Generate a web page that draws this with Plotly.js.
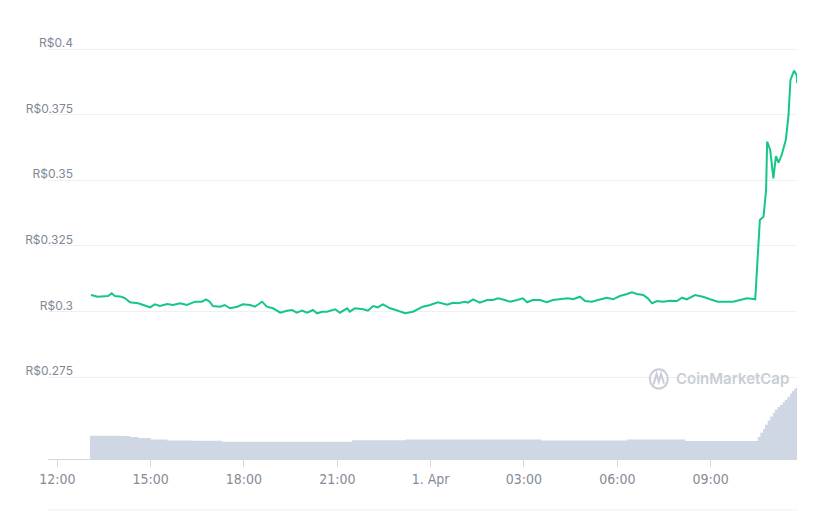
<!DOCTYPE html>
<html>
<head>
<meta charset="utf-8">
<script src="https://cdn.plot.ly/plotly-3.0.1.min.js"></script>
<style>
html,body{margin:0;padding:0;background:#fff;}
#chart{width:822px;height:511px;}
</style>
</head>
<body>
<div id="chart"></div>
<script>
// Price series (BRL) — 31 Mar to 1 Apr
const priceTimes = [
"2021-03-31 13:05","2021-03-31 13:18","2021-03-31 13:38","2021-03-31 13:45","2021-03-31 13:51","2021-03-31 14:04","2021-03-31 14:11","2021-03-31 14:20","2021-03-31 14:36","2021-03-31 14:45",
"2021-03-31 14:59","2021-03-31 15:08","2021-03-31 15:18","2021-03-31 15:32","2021-03-31 15:43","2021-03-31 15:57","2021-03-31 16:10","2021-03-31 16:26","2021-03-31 16:39","2021-03-31 16:47",
"2021-03-31 16:54","2021-03-31 17:00","2021-03-31 17:14","2021-03-31 17:23","2021-03-31 17:33","2021-03-31 17:47","2021-03-31 17:58","2021-03-31 18:12","2021-03-31 18:21","2021-03-31 18:35",
"2021-03-31 18:44","2021-03-31 18:56","2021-03-31 19:10","2021-03-31 19:23","2021-03-31 19:33","2021-03-31 19:42","2021-03-31 19:52","2021-03-31 20:02","2021-03-31 20:13","2021-03-31 20:21",
"2021-03-31 20:31","2021-03-31 20:40","2021-03-31 20:56","2021-03-31 21:05","2021-03-31 21:19","2021-03-31 21:24","2021-03-31 21:34","2021-03-31 21:50","2021-03-31 21:59","2021-03-31 22:09",
"2021-03-31 22:18","2021-03-31 22:28","2021-03-31 22:42","2021-03-31 22:57","2021-03-31 23:11","2021-03-31 23:26","2021-03-31 23:45","2021-03-31 23:59","2021-04-01 00:14","2021-04-01 00:32",
"2021-04-01 00:43","2021-04-01 00:53","2021-04-01 01:06","2021-04-01 01:12","2021-04-01 01:22","2021-04-01 01:35","2021-04-01 01:49","2021-04-01 02:00","2021-04-01 02:10","2021-04-01 02:23",
"2021-04-01 02:33","2021-04-01 02:47","2021-04-01 02:58","2021-04-01 03:06","2021-04-01 03:17","2021-04-01 03:31","2021-04-01 03:44","2021-04-01 03:56","2021-04-01 04:10","2021-04-01 04:25",
"2021-04-01 04:35","2021-04-01 04:48","2021-04-01 04:58","2021-04-01 05:11","2021-04-01 05:23","2021-04-01 05:40","2021-04-01 05:52","2021-04-01 06:05","2021-04-01 06:19","2021-04-01 06:28",
"2021-04-01 06:38","2021-04-01 06:50","2021-04-01 06:59","2021-04-01 07:07","2021-04-01 07:17","2021-04-01 07:28","2021-04-01 07:42","2021-04-01 07:55","2021-04-01 08:05","2021-04-01 08:14",
"2021-04-01 08:30","2021-04-01 08:45","2021-04-01 08:59","2021-04-01 09:14","2021-04-01 09:32","2021-04-01 09:43","2021-04-01 09:57","2021-04-01 10:10","2021-04-01 10:22","2021-04-01 10:26",
"2021-04-01 10:35","2021-04-01 10:42","2021-04-01 10:47","2021-04-01 10:49","2021-04-01 10:55","2021-04-01 11:01","2021-04-01 11:06","2021-04-01 11:11","2021-04-01 11:17","2021-04-01 11:25",
"2021-04-01 11:30","2021-04-01 11:34","2021-04-01 11:41","2021-04-01 11:46","2021-04-01 11:47"
];
const priceValues = [
0.30625,0.30560,0.30587,0.30690,0.30587,0.30560,0.30499,0.30347,0.30309,0.30244,
0.30156,0.30271,0.30206,0.30282,0.30244,0.30309,0.30244,0.30370,0.30370,0.30461,
0.30370,0.30206,0.30179,0.30244,0.30118,0.30179,0.30271,0.30244,0.30179,0.30370,
0.30179,0.30118,0.29950,0.30027,0.30053,0.29950,0.30027,0.29950,0.30053,0.29928,
0.29989,0.29989,0.30080,0.29950,0.30118,0.29989,0.30118,0.30080,0.30027,0.30206,
0.30156,0.30271,0.30118,0.30027,0.29928,0.29989,0.30179,0.30244,0.30347,0.30255,
0.30332,0.30309,0.30370,0.30332,0.30461,0.30332,0.30434,0.30434,0.30499,0.30434,
0.30370,0.30434,0.30499,0.30347,0.30434,0.30434,0.30347,0.30434,0.30461,0.30499,
0.30461,0.30560,0.30396,0.30370,0.30434,0.30522,0.30461,0.30587,0.30663,0.30728,
0.30663,0.30625,0.30499,0.30309,0.30396,0.30370,0.30408,0.30396,0.30522,0.30461,
0.30625,0.30560,0.30461,0.30370,0.30370,0.30370,0.30434,0.30499,0.30473,0.30461,
0.33483,0.33609,0.34627,0.36467,0.36151,0.35072,0.35922,0.35667,0.35960,0.36532,
0.37420,0.38819,0.39173,0.39009,0.38693
];

// Volume series (arbitrary units, relative)
const volumeTimes = [
"2021-03-31 13:03","2021-03-31 13:30","2021-03-31 14:01","2021-03-31 14:20","2021-03-31 14:36","2021-03-31 15:00","2021-03-31 15:32","2021-03-31 16:20",
"2021-03-31 17:18","2021-03-31 21:28","2021-03-31 23:12","2021-04-01 03:33","2021-04-01 06:19","2021-04-01 08:11","2021-04-01 10:31","2021-04-01 10:36",
"2021-04-01 10:41","2021-04-01 10:45","2021-04-01 10:50","2021-04-01 10:55","2021-04-01 11:00","2021-04-01 11:04","2021-04-01 11:09","2021-04-01 11:14",
"2021-04-01 11:19","2021-04-01 11:23","2021-04-01 11:28","2021-04-01 11:33","2021-04-01 11:37","2021-04-01 11:41","2021-04-01 11:44","2021-04-01 11:47"
];
const volumeValues = [
2.33,2.33,2.30,2.20,2.10,1.95,1.86,1.83,
1.73,1.88,1.95,1.86,1.95,1.80,2.20,2.63,
3.00,3.43,3.85,4.26,4.60,4.93,5.20,5.43,
5.70,5.93,6.20,6.53,6.80,7.00,7.13,7.13
];

// Axis ticks
const xTickVals = ["2021-03-31 12:00","2021-03-31 15:00","2021-03-31 18:00","2021-03-31 21:00","2021-04-01 00:00","2021-04-01 03:00","2021-04-01 06:00","2021-04-01 09:00"];
const xTickText = ["12:00","15:00","18:00","21:00","1. Apr","03:00","06:00","09:00"];
const yTickVals = [0.275,0.3,0.325,0.35,0.375,0.4];
const yTickText = ["R$0.275","R$0.3","R$0.325","R$0.35","R$0.375","R$0.4"];

const traces = [
  {
    x: volumeTimes, y: volumeValues, yaxis: 'y2', type: 'scatter', mode: 'lines',
    line: {width: 0, shape: 'hv', color: '#cfd6e4'},
    fill: 'tozeroy', fillcolor: '#cfd6e4', hoverinfo: 'skip'
  },
  {
    x: priceTimes, y: priceValues, type: 'scatter', mode: 'lines',
    line: {color: '#16c784', width: 2}, hoverinfo: 'skip'
  }
];

const layout = {
  width: 822, height: 511,
  margin: {l: 48, r: 25, t: 40, b: 52},
  paper_bgcolor: '#ffffff', plot_bgcolor: '#ffffff',
  showlegend: false,
  xaxis: {
    type: 'date',
    range: ["2021-03-31 11:42:06", "2021-04-01 11:46:36"],
    tickvals: xTickVals, ticktext: xTickText,
    ticks: 'outside', ticklen: 7, tickcolor: '#d3d7dd', tickwidth: 1,
    showgrid: false, zeroline: false,
    showline: true, linecolor: '#d3d7dd', linewidth: 1,
    tickfont: {family: 'Liberation Sans Narrow, DejaVu Sans Condensed, Roboto Condensed, Liberation Sans, sans-serif', size: 14, color: '#858c97'}
  },
  yaxis: {
    range: [0.24375, 0.40343],
    tickvals: yTickVals, ticktext: yTickText,
    ticks: '', showgrid: true, gridcolor: '#eef0f3', gridwidth: 1,
    zeroline: false, showline: false,
    ticklabelshift: -6, ticklabelstandoff: -26,
    tickfont: {family: 'Inter, Open Sans, sans-serif', size: 12, color: '#7f8897'}
  },
  yaxis2: {
    overlaying: 'y', range: [0, 41.9], visible: false, showgrid: false, zeroline: false
  },
  shapes: [
    {type: 'line', xref: 'paper', yref: 'paper', x0: 0, x1: 1, y0: -0.1217, y1: -0.1217,
     line: {color: '#eef0f3', width: 1}},
    {type: 'circle', xref: 'paper', yref: 'paper', x0: 0.8035, x1: 0.8275, y0: 0.168, y1: 0.214,
     line: {color: '#c9ced6', width: 2}},
    {type: 'path', xref: 'paper', yref: 'paper',
     path: 'M 0.8085 0.178 L 0.8125 0.203 L 0.8155 0.184 L 0.8185 0.203 L 0.8225 0.180',
     line: {color: '#c9ced6', width: 2}}
  ],
  annotations: [
    {xref: 'paper', yref: 'paper', x: 0.9135, y: 0.191, text: 'CoinMarketCap', showarrow: false,
     xanchor: 'center', yanchor: 'middle',
     font: {family: 'Inter, Open Sans, sans-serif', size: 15, color: '#c9ced6', weight: 600}}
  ]
};

Plotly.newPlot('chart', traces, layout, {staticPlot: true, displayModeBar: false});
</script>
</body>
</html>
